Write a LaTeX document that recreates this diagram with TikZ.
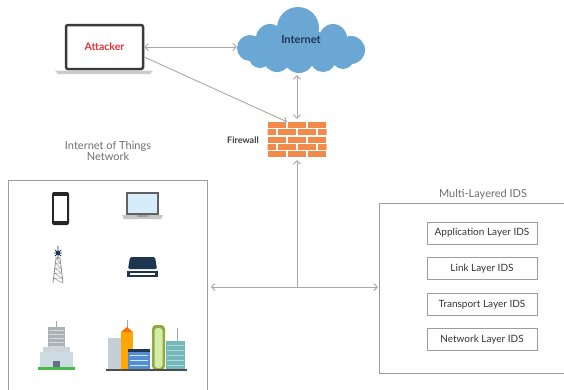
\documentclass[tikz,border=0pt]{standalone}
\usepackage{fontspec}
\setmainfont{Lato}
\usetikzlibrary{arrows.meta, positioning}
\definecolor{linegray}{HTML}{A8A8A8}
\definecolor{boxgray}{HTML}{9C9C9C}
\definecolor{titlegray}{HTML}{6E6E6E}
\definecolor{cloudblue}{HTML}{6BA7D4}
\definecolor{navy}{HTML}{1E3550}
\definecolor{brick}{HTML}{F28A4A}
\definecolor{attackred}{HTML}{E5323B}
\definecolor{frame}{HTML}{3A3A3C}
\definecolor{scrblue}{HTML}{D6ECF8}

\begin{document}
\begin{tikzpicture}[x=1pt, y=-1pt, every node/.style={font=\fontsize{10}{12}\selectfont},
    link/.style={draw=linegray, line width=0.9pt, >={Straight Barb[length=3.5pt,width=7pt]}},
    title/.style={text=titlegray, align=center, font=\fontsize{11}{11.5}\selectfont},
    layer/.style={draw=boxgray, line width=0.8pt, minimum width=110pt, minimum height=22pt, text=black!80}]
    \useasboundingbox (0,0) rectangle (564,389);

    % Attacker laptop
    \node[draw=frame, line width=2.5pt, rounded corners=2pt, fill=white, minimum width=77pt, minimum height=44pt,
          text=attackred, font=\fontsize{10.5}{12}\selectfont\bfseries] (attacker) at (104.5,47) {Attacker};
    \fill[gray!40] (55,70.5) -- (153,70.5) -- (150,74) -- (58,74) -- cycle;

    % Internet cloud (puffs drawn under an empty node)
    \fill[cloudblue] (298,28) circle (21) (270,38) circle (14) (250,48) circle (13)
                     (333,38) circle (14) (351,50) circle (14)
                     (260,57) circle (11) (277,58) circle (14) (299,58) circle (15)
                     (323,59) circle (13) (343,58) circle (11)
                     (300,47) ellipse (55 and 16);
    \node[minimum width=128pt, minimum height=66pt, inner sep=0pt, text=navy,
          font=\fontsize{11}{12}\selectfont\bfseries] (inet) at (301,40) {Internet};

    % Firewall
    \node[minimum width=59pt, minimum height=36pt, inner sep=0pt] (fw) at (297,140) {};
    \begin{scope}
      \clip (267.5,122) rectangle (326.5,158);
      \foreach \r in {0,...,4} {
        \pgfmathsetmacro\yy{122+7.3*\r}
        \pgfmathsetmacro\off{mod(\r,2)*(-10)}
        \foreach \c in {0,...,3}
          \fill[brick] ({267.5+\c*20+\off},\yy) rectangle ++(18.3,6.1);
      }
    \end{scope}
    \node[left=5pt of fw, text=black!75, font=\fontsize{9}{10}\selectfont\bfseries] (fwlabel) {Firewall};

    % IoT network
    \node[draw=boxgray, line width=0.8pt, minimum width=199pt, minimum height=230pt, anchor=north west] (iot) at (8,180) {};
    \node[title] (iottitle) at (108,151) {Internet of Things\\Network};

    % phone
    \fill[rounded corners=2pt, black!85] (52,192) rectangle (69,225);
    \fill[white] (54,196) rectangle (67,221);
    % laptop
    \fill[frame!80] (126,192) rectangle (159,215);
    \fill[scrblue] (128,194) rectangle (157,213);
    \fill[gray!45] (122,215) -- (163,215) -- (161,219) -- (124,219) -- cycle;
    \fill[gray!75] (137,215) rectangle (148,217);
    % tower
    \draw[gray!90, line width=0.8pt] (53,283) -- (56,258) -- (60,258) -- (63,283);
    \foreach \k in {0,...,4}
      \draw[gray!85, line width=0.5pt] ({56-0.6*\k},{258+5*\k}) -- ({60+0.6*\k},{263+5*\k})
                                        ({56-0.6*\k},{258+5*\k}) -- ({60+0.6*\k},{258+5*\k});
    \draw[navy, line width=0.8pt] (58,246) -- (58,258) (54,253) -- (62,253) (55,250) -- (61,256) (55,256) -- (61,250);
    \fill[navy] (58,253) circle (2.2pt);
    % router
    \fill[navy, rounded corners=1.5pt] (130,257) -- (155,257) -- (157,269) -- (128,269) -- cycle;
    \fill[navy] (127,271) rectangle (158,277);
    \fill[white] (130,272.5) rectangle (155,275);
    % office building
    \draw[gray!70] (56.5,321) -- (56.5,327);
    \fill[gray!60!cyan!40!black!45] (48,327) rectangle (65,357);
    \foreach \w in {330,334,...,354}
      \draw[white!70!gray, line width=0.5pt] (49,\w) -- (64,\w);
    \fill[cyan!15!gray!40] (43,347) rectangle (70,354);
    \fill[cyan!30!gray!35] (40,352) rectangle (73,368);
    \fill[navy!70] (53,361) rectangle (60,368);
    \fill[green!45!gray] (38,367) rectangle (75,370);
    % city blocks
    \fill[cyan!20!gray!45] (108,338) rectangle (121,370);
    \draw[gray!70] (127,320) -- (127,328);
    \fill[orange!85!red] (121,332) -- (127,327) -- (133,332) -- cycle;
    \fill[orange!70!yellow] (121,332) rectangle (133,370);
    \fill[cyan!50!blue!70] (128,349) rectangle (150,370);
    \fill[navy] (128,349) rectangle (150,351.5);
    \foreach \w in {355,360,365}
      \draw[white!80!cyan, line width=0.5pt] (130,\w) -- (148,\w);
    \fill[yellow!70!green!70!black, rounded corners=4pt] (152,370) -- (152,325) -- (165,325) -- (165,370) -- cycle;
    \fill[yellow!50!green!35, rounded corners=3pt] (154.5,368) -- (154.5,328) -- (162.5,328) -- (162.5,368) -- cycle;
    \draw[gray!70] (177,328) -- (177,341);
    \fill[teal!55!white] (166,341) rectangle (185,370);
    \foreach \w in {345,350,...,365}
      \draw[white!70!teal, line width=0.5pt] (167,\w) -- (184,\w);
    \fill[black!70] (106,369) rectangle (187,371);

    % Layered IDS
    \node[draw=boxgray, line width=0.8pt, minimum width=200pt, minimum height=170pt, anchor=north west] (ids) at (379,203) {};
    \node[title] (idstitle) at (483,194) {Multi-Layered IDS};
    \node[layer] (app) at (482,233) {Application Layer IDS};
    \node[layer, below=13pt of app] (lnk) {Link Layer IDS};
    \node[layer, below=13pt of lnk] (trans) {Transport Layer IDS};
    \node[layer, below=12pt of trans] (netl) {Network Layer IDS};

    % Connections
    \coordinate (hub) at (297,287);
    \draw[link, <->] (attacker.east) -- (attacker.east -| inet.west);
    \draw[link, ->] ([yshift=-10pt]attacker.east) -- ([xshift=-10pt]fw.north);
    \draw[link, <->, shorten <=2pt, shorten >=3pt] (inet.south -| fw.north) -- (fw.north);
    \draw[link, ->, shorten >=2pt] (hub) -- (fw.south);
    \draw[link, <->, shorten <=3pt, shorten >=1pt] (iot.east |- hub) -- (ids.west |- hub);
\end{tikzpicture}
\end{document}
